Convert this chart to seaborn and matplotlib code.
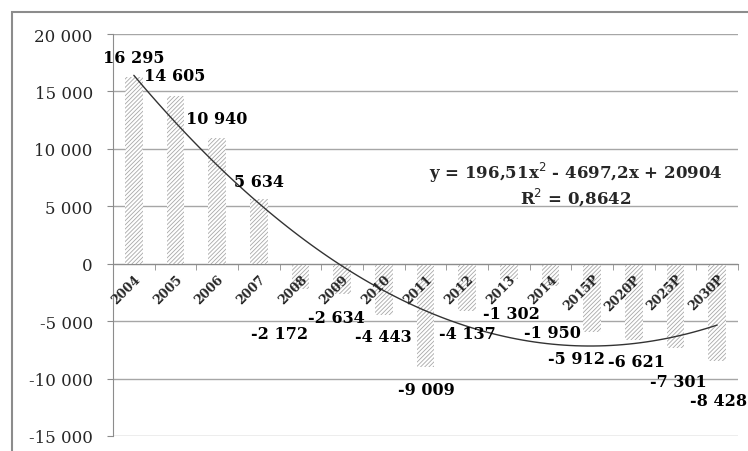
import numpy as np
import matplotlib
matplotlib.use('Agg')
from matplotlib import pyplot as plt
from matplotlib.patches import Rectangle
from matplotlib.ticker import FuncFormatter, FixedLocator
import seaborn as sns

years = ['2004', '2005', '2006', '2007', '2008', '2009', '2010', '2011',
         '2012', '2013', '2014', '2015P', '2020P', '2025P', '2030P']
values = [16295, 14605, 10940, 5634, -2172, -2634, -4443, -9009,
          -4137, -1302, -1950, -5912, -6621, -7301, -8428]
trend_text = 'y = 196,51x$^2$ - 4697,2x + 20904\nR$^2$ = 0,8642'

# manual label offsets (pixels) like the moved Excel labels
label_dx = [0, -1, 0, 0, -21, -6, -1, 1, 0, 3, 2, -16, 3, 3, 1]
label_dy = [-19, -20, -20, -18, 45, 24, 22, 22, 22, 35, 46, 27, 22, 34, 40]


def space_thousands(v, pos=None):
    s = '{:,.0f}'.format(v).replace(',', ' ')
    return s


if __name__ == '__main__':
    sns.set_style('white')
    plt.rcParams['font.family'] = ['DejaVu Serif']
    plt.rcParams['hatch.linewidth'] = 0.6

    fig = plt.figure(figsize=(7.48, 4.52), dpi=100)
    ax = fig.add_axes([113 / 748, 1 - 437 / 452, 625 / 748, 402 / 452])

    sns.barplot(x=years, y=values, color='white', width=0.43, edgecolor='#a8a8a8',
                linewidth=0, hatch='////////', ax=ax, zorder=2)
    sns.regplot(x=np.arange(len(values)), y=values, order=2, ci=None, scatter=False,
                truncate=True, line_kws={'color': '#333333', 'lw': 1.0, 'zorder': 3}, ax=ax)

    ax.set_xlim(-0.5, len(years) - 0.5)
    ax.set_ylim(-15000, 20000)
    ax.yaxis.set_major_locator(FixedLocator(np.arange(-15000, 20001, 5000)))
    ax.yaxis.set_major_formatter(FuncFormatter(space_thousands))
    ax.grid(axis='y', color='#a6a6a6', lw=1.0, zorder=0)
    ax.set_axisbelow(True)
    ax.xaxis.set_zorder(5)

    for s in ['top', 'right']:
        ax.spines[s].set_visible(False)
    ax.spines['left'].set_color('#8c8c8c')
    ax.spines['bottom'].set_position(('data', 0))
    ax.spines['bottom'].set_color('#8c8c8c')

    ax.tick_params(axis='y', left=True, length=4.5, color='#8c8c8c', labelsize=12, pad=10)
    ax.set_xticks(np.arange(len(years)))
    ax.set_xticklabels(years, rotation=45, ha='right', rotation_mode='anchor',
                       fontsize=9, fontweight='bold')
    ax.tick_params(axis='x', which='major', length=0, pad=6)
    ax.set_xticks(np.arange(len(years) + 1) - 0.5, minor=True)
    ax.tick_params(axis='x', which='minor', bottom=True, length=4, color='#8c8c8c', direction='out')
    ax.set_xlabel('')
    ax.set_ylabel('')

    for i, v in enumerate(values):
        ax.annotate(space_thousands(v), xy=(i, v), xytext=(label_dx[i], -label_dy[i]),
                    textcoords='offset pixels', ha='center', va='center',
                    fontsize=11.5, fontweight='bold', color='black', zorder=6,
                    annotation_clip=False)

    ax.text(10.61, 7000, trend_text, ha='center', va='center', fontsize=12,
            fontweight='bold', linespacing=1.05, zorder=6)

    # chart area border
    fig.patches.append(Rectangle((12 / 748, -0.1), 1.0, 1 - 13 / 452 + 0.1,
                                 transform=fig.transFigure, fill=False,
                                 edgecolor='#8c8c8c', lw=1.5))

    fig.savefig('out.png', dpi=100)
